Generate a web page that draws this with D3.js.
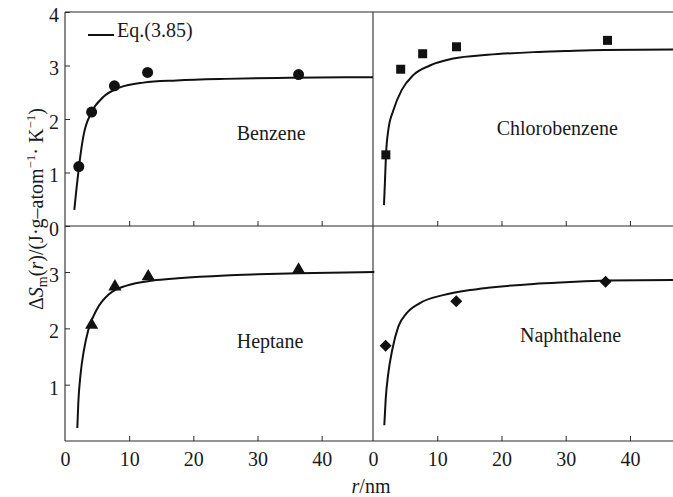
<!DOCTYPE html>
<html>
<head>
<meta charset="utf-8">
<script src="https://cdn.jsdelivr.net/npm/d3@7"></script>
<style>
body { margin: 0; background: #fff; }
text { font-family: "Liberation Serif", "Times New Roman", serif; fill: #1a1a1a; }
</style>
</head>
<body>
<svg id="chart" width="673" height="497"></svg>
<script>
// measured points (r in nm, dS in J/(g-atom K))
var benzeneR = [2.15, 4.15, 7.7, 12.87, 36.4];
var benzeneS = [1.11, 2.13, 2.62, 2.87, 2.83];
var chloroR = [2.0, 4.31, 7.73, 13.0, 36.5];
var chloroS = [1.33, 2.93, 3.22, 3.35, 3.47];
var heptaneR = [4.15, 7.78, 12.97, 36.4];
var heptaneS = [2.06, 2.74, 2.92, 3.04];
var naphR = [1.97, 12.96, 36.2];
var naphS = [1.69, 2.48, 2.83];

// Eq.(3.85) curves
var benzeneFitR = [1.45, 1.82, 2.18, 2.85, 4.15, 5.96, 8.56, 12.2, 17.4, 25, 35, 48];
var benzeneFitS = [0.30, 0.73, 1.11, 1.67, 2.13, 2.41, 2.59, 2.68, 2.72, 2.75, 2.77, 2.78];
var chloroFitR = [1.71, 1.87, 2.02, 2.38, 3.16, 4.46, 6.27, 8.86, 12.5, 17.9, 25, 30, 36, 46.7];
var chloroFitS = [0.39, 0.86, 1.32, 1.79, 2.16, 2.54, 2.82, 3.0, 3.13, 3.20, 3.25, 3.27, 3.29, 3.30];
var heptaneFitR = [1.92, 2.07, 2.44, 2.96, 3.63, 4.93, 7.0, 9.6, 13.7, 17.6, 25, 30, 36.4, 48.2];
var heptaneFitS = [0.23, 0.67, 1.20, 1.62, 1.97, 2.33, 2.62, 2.76, 2.85, 2.89, 2.94, 2.96, 2.98, 3.0];
var naphFitR = [1.76, 1.97, 2.38, 3.0, 3.94, 5.24, 7.3, 10.9, 15.1, 17.9, 25, 30, 36.2, 46.7];
var naphFitS = [0.28, 0.73, 1.20, 1.62, 2.03, 2.27, 2.45, 2.59, 2.68, 2.72, 2.79, 2.82, 2.85, 2.86];

var xTicks = [0, 10, 20, 30, 40];
var topYTicks = [0, 1, 2, 3, 4];
var bottomYTicks = [1, 2, 3];

var svg = d3.select("#chart");

var xLeft = d3.scaleLinear().domain([0, 48]).range([65, 373]);
var xRight = d3.scaleLinear().domain([0, 46.7]).range([373, 673]);
var yTop = d3.scaleLinear().domain([0, 4]).range([226, 12]);
var yBottom = d3.scaleLinear().domain([0, 3.8]).range([441, 227]);

function zip(a, b) { return a.map(function(v, i) { return [v, b[i]]; }); }

// frame
var frame = svg.append("g").attr("stroke", "#2a2a2a").attr("stroke-width", 1.1);
frame.append("line").attr("x1", 65).attr("x2", 673).attr("y1", yTop(4)).attr("y2", yTop(4));
frame.append("line").attr("x1", 65).attr("x2", 673).attr("y1", yTop(0)).attr("y2", yTop(0));
frame.append("line").attr("x1", 65).attr("x2", 673).attr("y1", yBottom(0)).attr("y2", yBottom(0));
frame.append("line").attr("x1", xLeft(0)).attr("x2", xLeft(0)).attr("y1", yTop(4)).attr("y2", yBottom(0));
frame.append("line").attr("x1", xRight(0)).attr("x2", xRight(0)).attr("y1", yTop(4)).attr("y2", yBottom(0));

function styleAxis(g) {
    g.attr("font-family", "'Liberation Serif', serif").attr("font-size", 20);
    g.select(".domain").remove();
    g.selectAll(".tick line").attr("stroke", "#2a2a2a");
    g.selectAll("text").attr("fill", "#1a1a1a");
}

function xAxis(scale, yPos, labels) {
    var ax = d3.axisBottom(scale)
        .tickValues(labels ? xTicks : xTicks.slice(1))
        .tickSizeInner(-5).tickSizeOuter(0).tickPadding(11)
        .tickFormat(labels ? d3.format("d") : "");
    var g = svg.append("g").attr("transform", "translate(0," + yPos + ")").call(ax);
    styleAxis(g);
    g.selectAll(".tick line").filter(function(d) { return d == 0; }).remove();
}

function yAxis(scale, ticks) {
    var ax = d3.axisLeft(scale).tickValues(ticks)
        .tickSizeInner(-5).tickSizeOuter(0).tickPadding(6)
        .tickFormat(d3.format("d"));
    var g = svg.append("g").attr("transform", "translate(65,0)").call(ax);
    styleAxis(g);
    g.selectAll("text").attr("dy", "0.47em");
}

xAxis(xLeft, yTop(0), false);
xAxis(xRight, yTop(0), false);
xAxis(xLeft, yBottom(0), true);
xAxis(xRight, yBottom(0), true);
yAxis(yTop, topYTicks);
yAxis(yBottom, bottomYTicks);

function drawPanel(xs, ys, fitR, fitS, ptR, ptS, symbol, size, rot) {
    var line = d3.line()
        .x(function(d) { return xs(d[0]); })
        .y(function(d) { return ys(d[1]); })
        .curve(d3.curveMonotoneX);
    svg.append("path").datum(zip(fitR, fitS))
        .attr("d", line).attr("fill", "none")
        .attr("stroke", "#111").attr("stroke-width", 2);
    svg.append("g").selectAll("path").data(zip(ptR, ptS)).enter().append("path")
        .attr("d", d3.symbol().type(symbol).size(size))
        .attr("transform", function(d) { return "translate(" + xs(d[0]) + "," + ys(d[1]) + ") rotate(" + rot + ")"; })
        .attr("fill", "#111");
}

drawPanel(xLeft, yTop, benzeneFitR, benzeneFitS, benzeneR, benzeneS, d3.symbolCircle, 95, 0);
drawPanel(xRight, yTop, chloroFitR, chloroFitS, chloroR, chloroS, d3.symbolSquare, 81, 0);
drawPanel(xLeft, yBottom, heptaneFitR, heptaneFitS, heptaneR, heptaneS, d3.symbolTriangle, 75, 0);
drawPanel(xRight, yBottom, naphFitR, naphFitS, naphR, naphS, d3.symbolSquare, 72, 45);

// panel names
var names = [["Benzene", 236.7, 140], ["Chlorobenzene", 496.7, 135], ["Heptane", 236.7, 348], ["Naphthalene", 520, 342]];
svg.selectAll(".pname").data(names).enter().append("text")
    .attr("class", "pname")
    .attr("x", function(d) { return d[1]; })
    .attr("y", function(d) { return d[2]; })
    .style("font-size", "20px")
    .text(function(d) { return d[0]; });

// legend
svg.append("line").attr("x1", 88).attr("x2", 114).attr("y1", 35).attr("y2", 35)
    .attr("stroke", "#111").attr("stroke-width", 2);
svg.append("text").attr("x", 117).attr("y", 37).style("font-size", "20px").text("Eq.(3.85)");

// axis titles
var xt = svg.append("text").attr("x", 371).attr("y", 493).attr("text-anchor", "middle").style("font-size", "20px");
xt.append("tspan").style("font-style", "italic").text("r");
xt.append("tspan").text("/nm");

var yt = svg.append("text").attr("transform", "translate(43,209) rotate(-90)")
    .attr("text-anchor", "middle").style("font-size", "20px");
yt.append("tspan").text("Δ");
yt.append("tspan").style("font-style", "italic").text("S");
yt.append("tspan").attr("dy", 4).style("font-size", "14px").text("m");
yt.append("tspan").attr("dy", -4).text("(");
yt.append("tspan").style("font-style", "italic").text("r");
yt.append("tspan").text(")/(J·g–atom");
yt.append("tspan").attr("dy", -8).style("font-size", "13px").text("−1");
yt.append("tspan").attr("dy", 8).text("· K");
yt.append("tspan").attr("dy", -8).style("font-size", "13px").text("−1");
yt.append("tspan").attr("dy", 8).text(")");
</script>
</body>
</html>
